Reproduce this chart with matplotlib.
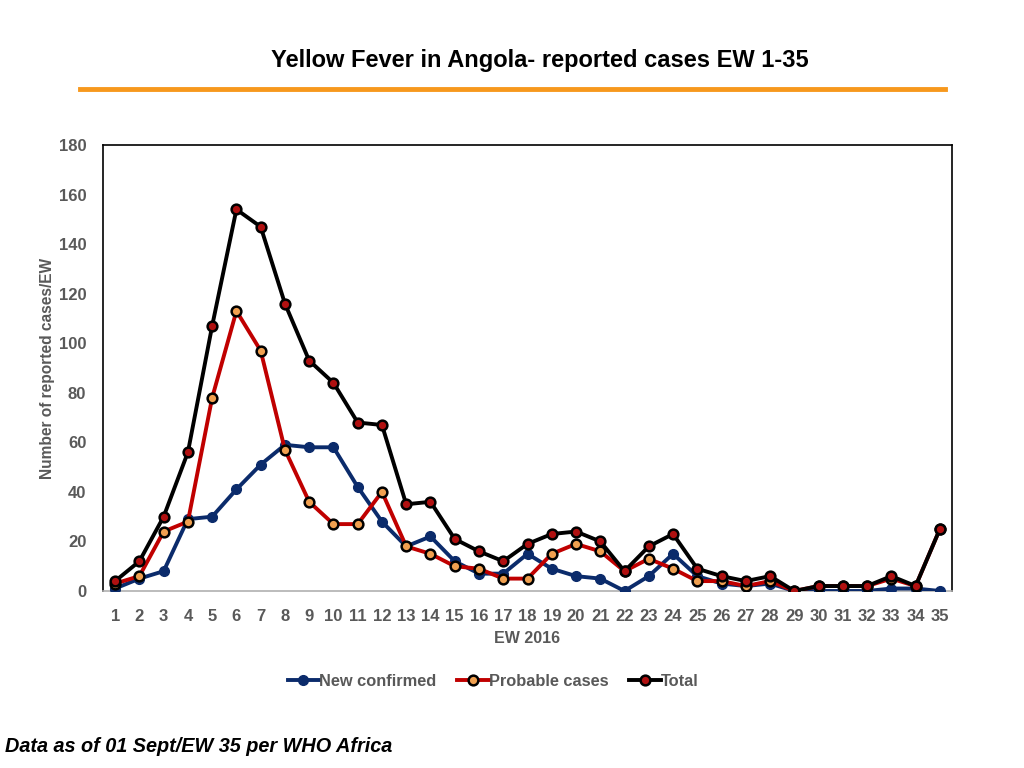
import matplotlib
matplotlib.use("Agg")
import matplotlib.pyplot as plt
from matplotlib.lines import Line2D

plt.rcParams['font.family'] = ['Liberation Sans', 'DejaVu Sans']

# Data: epidemiological weeks 1-35, 2016
weeks = list(range(1, 36))
confirmed = [1, 5, 8, 29, 30, 41, 51, 59, 58, 58, 42, 28, 18, 22, 12, 7, 7, 15, 9, 6,
             5, 0, 6, 15, 6, 3, 2, 3, 0, 0, 0, 0, 1, 1, 0]
probable = [3, 6, 24, 28, 78, 113, 97, 57, 36, 27, 27, 40, 18, 15, 10, 9, 5, 5, 15, 19,
            16, 8, 13, 9, 4, 4, 2, 4, 0, 2, 2, 2, 5, 2, 25]
total = [4, 12, 30, 56, 107, 154, 147, 116, 93, 84, 68, 67, 35, 36, 21, 16, 12, 19, 23, 24,
         20, 8, 18, 23, 9, 6, 4, 6, 0, 2, 2, 2, 6, 2, 25]

grey = '#595959'

fig = plt.figure(figsize=(10.24, 7.68), dpi=100)
ax = fig.add_axes([103/1024, 1 - 591/768, 849/1024, 446/768])

ax.plot(weeks, confirmed, '-o', color='#0b2b6b', lw=2.8, ms=7,
        mfc='#0b2b6b', mec='#0b2b6b', label='New confirmed', zorder=3)
ax.plot(weeks, probable, '-o', color='#c00000', lw=2.8, ms=7,
        mfc='#f0a050', mec='black', mew=1.8, label='Probable cases', zorder=4)
ax.plot(weeks, total, '-o', color='black', lw=2.8, ms=7,
        mfc='#b01010', mec='black', mew=1.8, label='Total', zorder=5)

ax.set_xlim(0.5, 35.5)
ax.set_ylim(0, 180)
ax.set_xticks(weeks)
ax.set_yticks(range(0, 181, 20))
ax.tick_params(length=0, labelsize=12, colors=grey)
ax.tick_params(axis='x', pad=13)
ax.tick_params(axis='y', pad=12)
for lbl in ax.get_xticklabels() + ax.get_yticklabels():
    lbl.set_fontweight('bold')

for s in ['top', 'left', 'right']:
    ax.spines[s].set_color('black')
    ax.spines[s].set_linewidth(1.2)
ax.spines['bottom'].set_color('#b0b0b0')
ax.spines['bottom'].set_linewidth(1.2)

ax.set_xlabel('EW 2016', color=grey, fontsize=11.5, fontweight='bold', labelpad=5)
ax.set_ylabel('Number of reported cases/EW', color=grey, fontsize=11.2,
              fontweight='bold', labelpad=3)

# Legend
handles = [
    Line2D([], [], color='#0b2b6b', lw=2.8, marker='o', ms=7, mfc='#0b2b6b', mec='#0b2b6b'),
    Line2D([], [], color='#c00000', lw=2.8, marker='o', ms=7, mfc='#f0a050', mec='black', mew=1.8),
    Line2D([], [], color='black', lw=2.8, marker='o', ms=7, mfc='#b01010', mec='black', mew=1.8),
]
leg = fig.legend(handles, ['New confirmed', 'Probable cases', 'Total'],
                 loc='center', bbox_to_anchor=(493/1024, 1 - 681/768), ncol=3,
                 frameon=False, handlelength=1.9, handletextpad=0.0,
                 columnspacing=1.3, prop={'size': 11.8, 'weight': 'bold'})
for t in leg.get_texts():
    t.set_color(grey)

# Title and decorative rule
fig.text(540/1024, 1 - 60/768, 'Yellow Fever in Angola- reported cases EW 1-35',
         ha='center', va='center', fontsize=17, fontweight='bold')
fig.add_artist(Line2D([80/1024, 945/1024], [1 - 89/768, 1 - 89/768],
                      color='#f7981d', lw=3.5))

# Footer
fig.text(5/1024, 1 - 746/768, 'Data as of 01 Sept/EW 35 per WHO Africa',
         ha='left', va='center', fontsize=14.3, fontweight='bold', style='italic')

fig.savefig('out.png', dpi=100)
